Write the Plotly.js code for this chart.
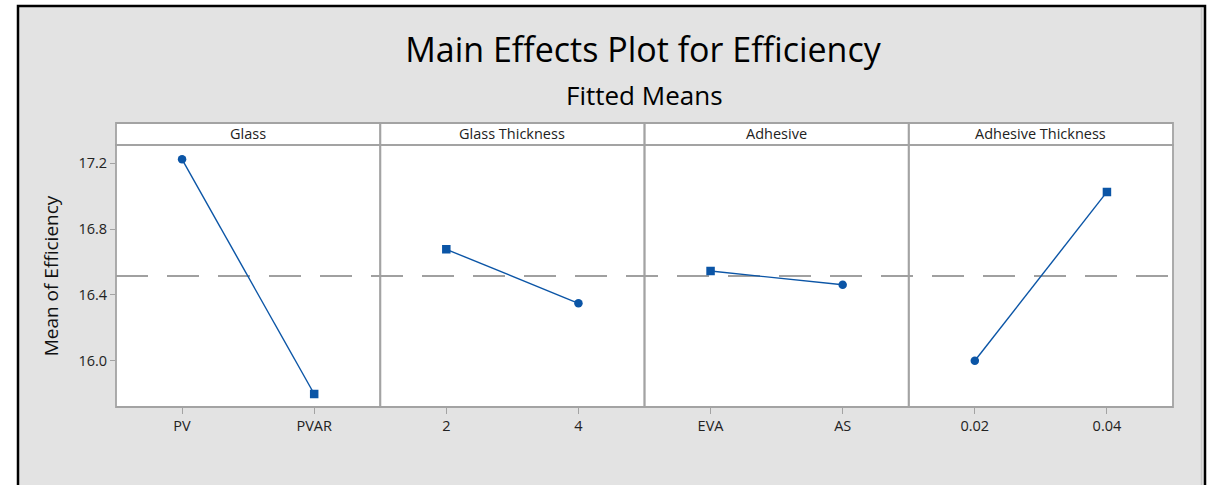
<!DOCTYPE html>
<html>
<head>
<meta charset="utf-8">
<script src="https://cdn.plot.ly/plotly-3.0.1.min.js"></script>
<style>html,body{margin:0;padding:0;background:#fff;}#chart{width:1219px;height:485px;}</style>
</head>
<body>
<div id="chart"></div>
<script>
// ---- data ----
const factors = ["Glass", "Glass Thickness", "Adhesive", "Adhesive Thickness"];
const glassLevels = ["PV", "PVAR"];
const glassMeans = [17.224, 15.798];
const glassThickLevels = ["2", "4"];
const glassThickMeans = [16.677, 16.349];
const adhesiveLevels = ["EVA", "AS"];
const adhesiveMeans = [16.545, 16.462];
const adhThickLevels = ["0.02", "0.04"];
const adhThickMeans = [16.000, 17.026];
const grandMean = 16.515;
const yTicks = [16.0, 16.4, 16.8, 17.2];

// ---- layout helpers (pixels -> paper) ----
const W = 1219, H = 485;
const L = 116, R = 1173, T = 145, B = 407;
const pw = R - L, ph = B - T;
const px = v => (v - L) / pw;
const py = v => (B - v) / ph;

const levelSets = [glassLevels, glassThickLevels, adhesiveLevels, adhThickLevels];
const meanSets = [glassMeans, glassThickMeans, adhesiveMeans, adhThickMeans];
const symbolSets = [["circle", "square"], ["square", "circle"], ["square", "circle"], ["circle", "square"]];

const blue = "#0b55a6";
const frame = "#a3a3a3";
const bg = "#e3e3e3";
const font = "Open Sans, Noto Sans, sans-serif";

const traces = levelSets.map((lv, i) => ({
  type: "scatter",
  mode: "lines+markers",
  x: lv,
  y: meanSets[i],
  xaxis: i === 0 ? "x" : "x" + (i + 1),
  yaxis: "y",
  line: {color: blue, width: 1.4},
  marker: {color: blue, size: 8.5, symbol: symbolSets[i]},
  hoverinfo: "x+y",
  showlegend: false
}));

const layout = {
  width: W, height: H,
  margin: {l: L, r: W - R, t: T, b: H - B, pad: 0},
  paper_bgcolor: "#ffffff",
  plot_bgcolor: "rgba(0,0,0,0)",
  font: {family: font, color: "#1a1a1a"},
  title: {
    text: "Main Effects Plot for Efficiency",
    font: {family: font, size: 34, color: "#000"},
    x: 643 / W, xanchor: "center", xref: "container",
    y: 1 - 50 / H, yanchor: "middle", yref: "container"
  },
  yaxis: {
    range: [15.719, 17.311],
    tickvals: yTicks,
    ticktext: yTicks.map(v => v.toFixed(1)),
    ticks: "outside", ticklen: 5, tickcolor: frame, tickwidth: 1,
    showgrid: false, zeroline: false, showline: false,
    tickfont: {size: 14.5, family: font, color: "#222"},
    title: {text: "Mean of Efficiency", font: {size: 19, family: font, color: "#111"}, standoff: 14},
    fixedrange: true
  },
  shapes: [],
  annotations: []
};

for (let i = 0; i < 4; i++) {
  const key = i === 0 ? "xaxis" : "xaxis" + (i + 1);
  layout[key] = {
    domain: [i / 4, (i + 1) / 4],
    anchor: "y",
    type: "category",
    range: [-0.5, 1.5],
    ticks: "outside", ticklen: 6, tickcolor: frame, tickwidth: 1,
    showgrid: false, zeroline: false, showline: false,
    tickfont: {size: 14.5, family: font, color: "#222"},
    fixedrange: true
  };
}

// outer background and border
layout.shapes.push({type: "rect", xref: "paper", yref: "paper", layer: "below",
  x0: px(18), x1: px(1205), y0: py(H + 20), y1: py(6),
  fillcolor: bg, line: {color: "#000", width: 2.5}});
layout.shapes.push({type: "line", xref: "paper", yref: "paper", layer: "below",
  x0: px(1201.5), x1: px(1201.5), y0: py(H + 20), y1: py(8),
  line: {color: "#c8c8c8", width: 1.5}});

// panel + strip backgrounds
const stripTop = py(123);
for (let i = 0; i < 4; i++) {
  layout.shapes.push({type: "rect", xref: "paper", yref: "paper", layer: "below",
    x0: i / 4, x1: (i + 1) / 4, y0: 0, y1: stripTop,
    fillcolor: "#ffffff", line: {width: 0}});
}
for (let i = 0; i < 4; i++) {
  layout.shapes.push({type: "rect", xref: "paper", yref: "paper", layer: "below",
    x0: i / 4, x1: (i + 1) / 4, y0: 0, y1: 1,
    fillcolor: "rgba(0,0,0,0)", line: {color: frame, width: 1.8}});
  layout.shapes.push({type: "rect", xref: "paper", yref: "paper", layer: "below",
    x0: i / 4, x1: (i + 1) / 4, y0: 1, y1: stripTop,
    fillcolor: "rgba(0,0,0,0)", line: {color: frame, width: 1.8}});
  layout.annotations.push({
    text: factors[i], xref: "paper", yref: "paper",
    x: (i + 0.5) / 4, y: (1 + stripTop) / 2, xanchor: "center", yanchor: "middle",
    showarrow: false, font: {size: 14.5, family: font, color: "#222"}
  });
}

// grand mean reference line
layout.shapes.push({type: "line", xref: "paper", yref: "y", layer: "below",
  x0: 0, x1: 1, y0: grandMean, y1: grandMean,
  line: {color: "#a0a0a0", width: 1.8, dash: "32px,19px"}});

// subtitle
layout.annotations.push({
  text: "Fitted Means", xref: "paper", yref: "paper",
  x: px(644), y: py(95), xanchor: "center", yanchor: "middle",
  showarrow: false, font: {size: 26, family: font, color: "#000"}
});

Plotly.newPlot("chart", traces, layout, {displayModeBar: false, staticPlot: true});
</script>
</body>
</html>
